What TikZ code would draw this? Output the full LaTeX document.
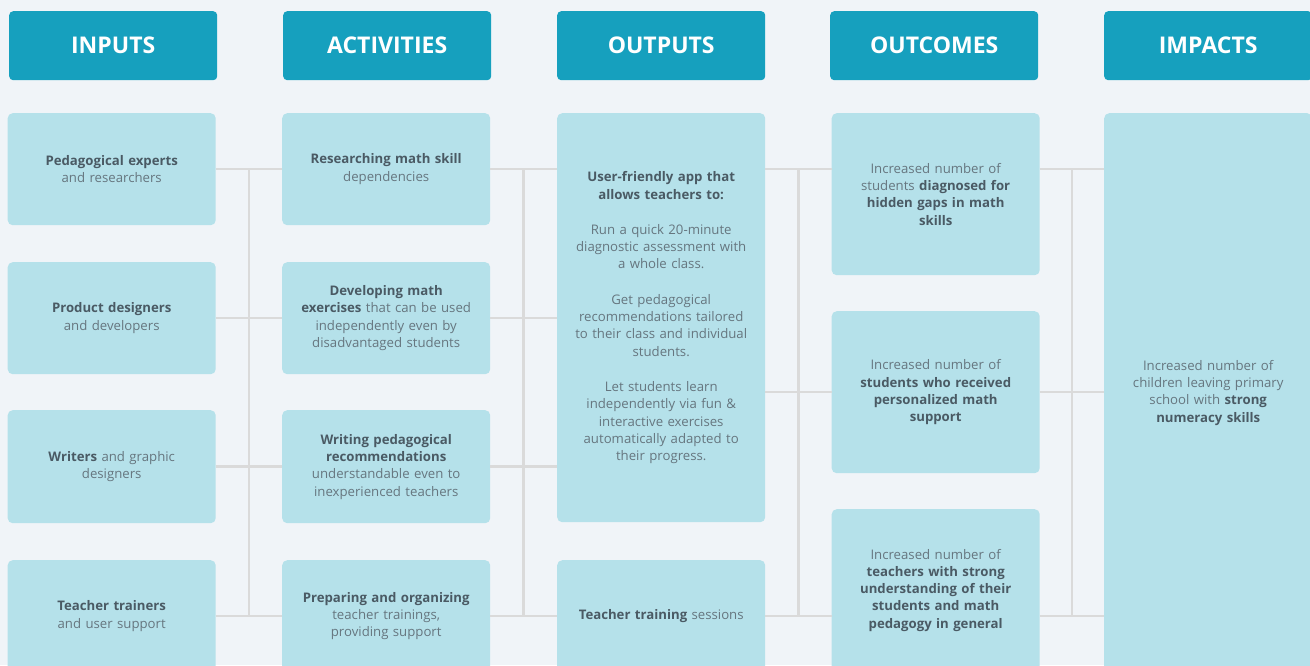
\documentclass[tikz,border=0pt]{standalone}
\usepackage{fontspec}
\setmainfont{Open Sans}
\usetikzlibrary{calc}

\definecolor{pagebg}{HTML}{F0F4F8}
\definecolor{headfill}{HTML}{16A0BE}
\definecolor{cellfill}{HTML}{B5E1EA}
\definecolor{linkgray}{HTML}{DADADA}
\definecolor{txtdark}{HTML}{4A5A64}
\definecolor{txtlight}{HTML}{66767F}

\newcommand{\keyword}[1]{\textbf{\color{txtdark}#1}}

\begin{document}
\begin{tikzpicture}[
  x=1pt, y=-1pt,
  header/.style={rectangle, rounded corners=4pt, fill=headfill, text=white,
    minimum width=208pt, minimum height=69pt, inner sep=0pt, anchor=north west,
    font=\fontsize{23}{27}\selectfont\bfseries},
  cell/.style={rectangle, rounded corners=5pt, fill=cellfill, text=txtlight,
    minimum width=208pt, minimum height=#1, inner sep=0pt, text width=198pt,
    align=center, anchor=north west, font=\fontsize{13.2}{17.3}\selectfont},
  link/.style={draw=linkgray, line width=2.5pt}
]

%% Parameters
\def\xIn{7.5}    % inputs column
\def\xAct{282}   % activities column
\def\xOut{557}   % outputs column
\def\xOc{831.5}  % outcomes column
\def\xImp{1104}  % impacts column

%% ---- Canvas ----
\useasboundingbox (0,0) rectangle (1310,665);
\fill[pagebg] (0,0) rectangle (1310,665);
\clip (0,0) rectangle (1310,665);

%% ---- Column headers ----
\node[header] (hIn)  at (9,11)     {INPUTS};
\node[header] (hAct) at (283,11)   {ACTIVITIES};
\node[header] (hOut) at (\xOut,11) {OUTPUTS};
\node[header] (hOc)  at (830,11)   {OUTCOMES};
\node[header] (hImp) at (\xImp,11) {IMPACTS};

%% ---- Inputs ----
\node[cell=112pt] (in1) at (\xIn,113) {\keyword{Pedagogical experts}\\ and researchers};
\node[cell=112pt] (in2) at (\xIn,262) {\keyword{Product designers}\\ and developers};
\node[cell=113pt] (in3) at (\xIn,410) {\keyword{Writers} and graphic\\ designers};
\node[cell=112pt] (in4) at (\xIn,560) {\keyword{Teacher trainers}\\ and user support};

%% ---- Activities ----
\node[cell=112pt] (act1) at (\xAct,113) {\keyword{Researching math skill}\\ dependencies};
\node[cell=112pt] (act2) at (\xAct,262)
  {\keyword{Developing math}\\ \keyword{exercises} that can be used\\
   independently even by\\ disadvantaged students};
\node[cell=113pt] (act3) at (\xAct,410)
  {\keyword{Writing pedagogical}\\ \keyword{recommendations}\\
   understandable even to\\ inexperienced teachers};
\node[cell=112pt] (act4) at (\xAct,560)
  {\keyword{Preparing and organizing}\\ teacher trainings,\\ providing support};

%% ---- Outputs ----
\node[cell=409pt] (out1) at (\xOut,113)
  {\keyword{User-friendly app that}\\ \keyword{allows teachers to:}\\[18pt]
   Run a quick 20-minute\\ diagnostic assessment with\\ a whole class.\\[18pt]
   Get pedagogical\\ recommendations tailored\\ to their class and individual\\ students.\\[18pt]
   Let students learn\\ independently via fun \&\\ interactive exercises\\
   automatically adapted to\\ their progress.};
\node[cell=112pt] (out2) at (\xOut,560) {\keyword{Teacher training} sessions};

%% ---- Outcomes ----
\node[cell=162pt] (oc1) at (\xOc,113)
  {Increased number of\\ students \keyword{diagnosed for}\\
   \keyword{hidden gaps in math}\\ \keyword{skills}};
\node[cell=162pt] (oc2) at (\xOc,311)
  {Increased number of\\ \keyword{students who received}\\
   \keyword{personalized math}\\ \keyword{support}};
\node[cell=162pt] (oc3) at (\xOc,509)
  {Increased number of\\ \keyword{teachers with strong}\\
   \keyword{understanding of their}\\ \keyword{students and math}\\
   \keyword{pedagogy in general}};

%% ---- Impacts ----
\node[cell=559pt] (imp) at (\xImp,113)
  {Increased number of\\ children leaving primary\\
   school with \keyword{strong}\\ \keyword{numeracy skills}};

%% ---- Inputs -> activities ----
\foreach \i in {1,...,4}
  \draw[link] (in\i.east) -- (act\i.west);
\coordinate (busA)  at ($(in1.east)!0.5!(act1.west)$);
\coordinate (busA2) at ($(in4.east)!0.5!(act4.west)$);
\draw[link, line cap=rect] (busA) -- (busA2);

%% ---- Activities -> outputs ----
\foreach \i in {1,...,4}
  \draw[link] (act\i.east) -- (act\i.east -| out1.west);
\coordinate (busB)  at ($(act1.east)!0.5!(act1.east -| out1.west)$);
\coordinate (busB2) at ($(act4.east)!0.5!(out2.west)$);
\draw[link, line cap=rect] (busB) -- (busB2);

%% ---- Outputs -> outcomes ----
\draw[link] (out1.east |- in1.east) -- (oc1.west |- in1.east);
\draw[link] (out1.east |- oc2.west) -- (oc2.west);
\draw[link] (out2.east) -- (oc3.west |- out2.east);
\coordinate (busC)  at ($(out1.east |- in1.east)!0.5!(oc1.west |- in1.east)$);
\coordinate (busC2) at ($(out2.east)!0.5!(oc3.west |- out2.east)$);
\draw[link, line cap=rect] (busC) -- (busC2);

%% ---- Outcomes -> impacts ----
\draw[link] (oc1.east |- in1.east) -- (imp.west |- in1.east);
\draw[link] (oc2.east) -- (imp.west |- oc2.east);
\draw[link] (oc3.east |- out2.east) -- (imp.west |- out2.east);
\coordinate (busD)  at ($(oc1.east |- in1.east)!0.5!(imp.west |- in1.east)$);
\coordinate (busD2) at ($(oc3.east |- out2.east)!0.5!(imp.west |- out2.east)$);
\draw[link, line cap=rect] (busD) -- (busD2);

\end{tikzpicture}
\end{document}
